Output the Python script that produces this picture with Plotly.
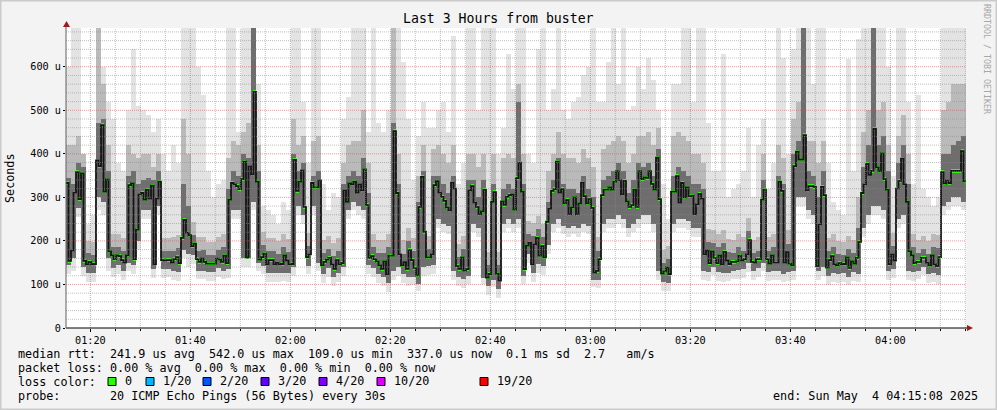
import numpy as np
import pandas as pd
import plotly.graph_objects as go

START = pd.Timestamp("2025-05-04 01:15:08")
END = pd.Timestamp("2025-05-04 04:15:08")
STEP_S = 30

# median RTT per 30 s step (microseconds)
median_us = [
    333,154,178,311,358,296,355,154,146,152, 146,147,385,372,466,313,341,176,167,158,
    167,165,156,150,167,328,332,158,226,307, 310,295,317,297,327,146,297,336,156,155,
    156,156,150,158,163,149,207,248,219,213, 188,194,158,152,160,152,148,148,148,148,
    160,157,152,166,149,295,333,330,326,319, 342,382,162,371,353,542,336,157,163,171,
    146,156,156,146,150,146,147,167,155,146, 147,386,315,336,362,278,163,169,333,323,
    323,339,144,152,157,161,146,136,156,146, 149,316,290,332,330,336,311,330,316,364,
    282,161,165,158,153,144,136,153,123,166, 166,452,310,169,144,151,136,179,156,138,
    121,278,347,221,162,162,169,328,337,311, 301,292,277,270,334,320,142,136,162,132,
    135,316,326,288,278,261,268,317,116,124, 290,312,125,109,291,283,301,305,307,272,
    344,380,313,135,189,196,146,192,207,166, 188,162,244,274,315,319,382,311,319,286,
    294,261,277,300,261,286,334,303,286,296, 276,127,131,158,305,318,318,323,318,336,
    360,339,307,338,291,278,282,318,278,360, 342,346,345,360,331,318,391,296,125,130,
    139,124,313,313,349,288,333,300,323,303, 304,261,284,308,297,169,178,149,176,161,
    149,167,146,175,155,147,152,152,153,166, 155,158,169,202,152,150,158,158,295,318,
    158,148,167,150,150,336,315,150,174,148, 144,372,405,387,387,443,316,326,326,324,
    142,238,324,305,139,156,165,146,144,149, 146,147,162,138,153,148,161,198,310,330,
    377,352,361,457,369,360,401,342,318,147, 169,155,320,338,389,330,290,176,167,149,
    152,152,161,161,150,144,167,146,142,163, 358,332,339,333,361,361,361,361,406,337,
]

# smoke (per minute): bottom of light, bottom of dark, top of dark, top of medium, top of light
smoke_min = [
    125,130,255,120,106,106,270,260,130,118, 125,110,130,125,180,250,250,115,260,115,
    116,110,109,160,140,148,112,112,108,108, 117,112,115,250,250,140,140,270,130,123,
    106,106,106,107,106,120,260,240,123,260, 130,104,117,96,106,120,250,270,260,250,
    125,118,104,96,83,110,120,104,96,98, 85,120,122,125,230,220,215,110,96,92,
    100,220,210,100,76,95,69,220,230,220, 230,100,149,106,126,122,170,220,230,215,
    210,215,210,220,215,95,91,220,230,230, 240,230,210,220,230,240,240,220,110,85,
    84,220,230,230,225,210,210,110,109,121, 109,106,107,112,113,115,129,110,118,130,
    108,110,110,105,108,110,280,280,250,240, 110,120,99,106,104,106,98,108,105,210,
    240,260,260,250,110,115,230,240,110,109, 112,121,104,106,102,260,270,280,280,270,
]
smoke_lo = [
    145,160,275,140,126,126,300,290,160,138, 145,130,150,145,200,270,270,135,280,135,
    136,130,129,180,170,168,132,132,128,128, 137,132,135,270,270,160,160,290,150,143,
    126,126,126,127,126,140,280,260,143,280, 150,124,137,116,126,140,270,290,280,270,
    145,138,124,116,103,130,140,124,116,118, 100,140,142,145,250,240,235,130,116,112,
    120,240,230,115,96,110,89,240,250,240, 250,120,169,126,146,142,190,240,250,235,
    230,235,230,240,235,110,111,240,250,250, 260,250,230,240,250,260,260,240,130,105,
    104,240,250,250,245,230,230,130,129,141, 129,126,127,132,133,135,149,130,138,150,
    128,130,130,125,128,130,300,300,270,260, 130,140,119,126,124,126,118,128,125,230,
    260,280,280,270,130,135,250,260,130,129, 132,141,124,126,122,280,290,300,300,290,
]
smoke_core = [
    345,330,380,370,172,167,470,480,360,187, 187,176,350,360,330,340,345,340,360,176,
    176,178,183,330,280,214,178,180,168,168, 180,186,320,360,350,400,390,689,360,191,
    176,176,170,187,175,400,360,380,189,350, 360,172,181,166,176,330,350,360,350,390,
    310,185,173,173,186,470,330,171,199,176, 290,360,182,350,350,330,310,350,162,182,
    340,340,300,340,144,330,145,320,330,320, 520,330,216,212,227,208,290,340,390,330,
    320,320,310,350,320,300,178,340,350,360, 380,360,310,340,380,370,380,350,410,150,
    159,350,370,360,350,330,330,320,198,196, 187,195,175,172,186,178,222,172,178,340,
    178,187,350,330,194,400,430,689,360,350, 300,360,176,185,169,167,182,173,230,370,
    420,689,420,440,360,189,380,420,330,187, 172,181,170,187,183,400,400,420,430,440,
]
smoke_hi = [
    420,420,440,400,200,197,689,560,420,217, 217,206,420,400,390,400,400,370,400,206,
    206,208,213,480,400,244,208,210,198,198, 210,216,390,430,420,450,470,689,420,221,
    206,206,200,217,205,480,420,440,219,430, 440,202,211,196,206,380,420,430,430,500,
    380,215,203,203,216,689,400,201,229,206, 350,420,212,410,420,400,380,420,192,212,
    400,400,370,400,174,400,175,390,400,390, 560,400,246,242,257,238,360,400,450,400,
    390,390,380,410,390,370,208,410,420,430, 440,430,380,400,440,440,450,420,460,180,
    189,440,450,440,430,400,400,380,228,226, 217,225,205,202,216,208,252,202,208,400,
    208,217,420,390,224,480,520,689,430,430, 380,430,206,215,199,197,212,203,300,450,
    500,689,500,520,420,219,440,490,400,217, 202,211,200,217,213,500,520,560,560,560,
]
smoke_max = [
    600,689,689,400,240,260,689,600,520,480, 380,360,500,640,510,500,490,450,480,400,
    360,420,380,689,689,689,600,535,360,300, 330,340,689,689,450,689,689,689,560,280,
    270,260,240,290,270,689,689,520,380,689, 689,330,270,310,300,480,530,689,689,689,
    450,689,470,450,500,689,689,610,480,340, 440,520,460,460,500,520,450,670,330,380,
    689,689,500,689,689,689,400,460,630,550, 689,689,400,380,640,689,500,550,689,500,
    480,520,530,580,600,689,520,520,610,689, 560,689,500,510,600,550,620,570,500,330,
    250,560,560,689,689,520,689,689,470,360, 360,630,300,320,330,360,460,300,420,480,
    320,380,689,620,400,640,689,689,689,560, 689,689,380,290,270,260,618,360,664,689,
    689,689,689,689,600,350,689,689,520,330, 535,320,300,280,300,689,689,689,689,689,
]

x_tick_labels = ["01:20", "01:40", "02:00", "02:20", "02:40", "03:00", "03:20", "03:40", "04:00"]
y_tick_values = [0, 100, 200, 300, 400, 500, 600]
y_tick_labels = ["0", "100 u", "200 u", "300 u", "400 u", "500 u", "600 u"]

loss_labels = ["0", "1/20", "2/20", "3/20", "4/20", "10/20", "19/20"]
loss_colors = ["#26ff00", "#00b8ff", "#0059ff", "#5e00ff", "#7e00ff", "#dd00ff", "#ff0000"]

legend_lines = [
    "median rtt:  241.9 us avg  542.0 us max  109.0 us min  337.0 us now  0.1 ms sd  2.7   am/s",
    "packet loss: 0.00 % avg  0.00 % max  0.00 % min  0.00 % now",
    "loss color:",
    "probe:       20 ICMP Echo Pings (56 Bytes) every 30s",
]
end_text = "end: Sun May  4 04:15:08 2025"
title_text = "Last 3 Hours from buster"

MONO = "DejaVu Sans Mono"
Y_MAX = 689

# ---------- geometry helpers (pixel -> paper) ----------
L, R, T, B = 66, 31, 28, 82
W, H = 997, 410
PW, PH = W - L - R, H - T - B


def px(x):
    return (x - L) / PW


def py(y):
    return (H - B - y) / PH


def nb(s):
    return s.replace(" ", "\u00a0")


fig = go.Figure()

t_min = START + pd.to_timedelta(np.arange(len(smoke_min)) * 60 + 30, unit="s")
t_med = START + pd.to_timedelta(np.arange(len(median_us)) * STEP_S + STEP_S / 2, unit="s")


def band(lo, hi, color):
    fig.add_trace(go.Bar(
        x=t_min, base=lo, y=[h - l for l, h in zip(lo, hi)], width=60000,
        marker=dict(color=color, line=dict(width=0)), hoverinfo="skip", showlegend=False))


band(smoke_min, smoke_max, "#e3e3e3")
band(smoke_lo, smoke_hi, "#bababa")
band(smoke_lo, smoke_core, "#6e6e6e")

# median step line
step_x = list(START + pd.to_timedelta(np.arange(len(median_us)) * STEP_S, unit="s")) + [END]
step_y = list(median_us) + [median_us[-1]]
fig.add_trace(go.Scatter(x=step_x, y=step_y, mode="lines", line=dict(color="#141414", width=1.8, shape="hv"),
                         hoverinfo="skip", showlegend=False))

# loss-coloured median blocks
fig.add_trace(go.Bar(
    x=t_med, base=[m - 4 for m in median_us], y=[8] * len(median_us), width=STEP_S * 1150,
    marker=dict(color=loss_colors[0], line=dict(width=0)), hoverinfo="skip", showlegend=False))

shapes = []
# grid on top
grid_minor = "rgba(140,140,140,0.55)"
grid_major = "rgba(240,70,70,0.55)"
t = pd.Timestamp("2025-05-04 01:20:00")
k = 0
while t <= END:
    major = (k % 4 == 0)
    shapes.append(dict(type="line", xref="x", yref="paper", x0=t, x1=t, y0=0, y1=1, layer="above",
                       line=dict(color=grid_major if major else grid_minor, width=1, dash="1px,1px")))
    t = t + pd.Timedelta(minutes=5)
    k += 1
for v in range(20, Y_MAX, 20):
    major = (v % 100 == 0)
    shapes.append(dict(type="line", xref="paper", yref="y", x0=0, x1=1, y0=v, y1=v, layer="above",
                       line=dict(color=grid_major if major else grid_minor, width=1, dash="1px,1px")))

# axes + arrows
shapes.append(dict(type="line", xref="paper", yref="paper", x0=px(66), x1=px(968), y0=0, y1=0,
                   layer="above", line=dict(color="#000000", width=1)))
shapes.append(dict(type="line", xref="paper", yref="paper", x0=0, x1=0, y0=0, y1=py(25),
                   layer="above", line=dict(color="#606060", width=1)))
shapes.append(dict(type="path", xref="paper", yref="paper", layer="above",
                   path=f"M {px(967)} {py(325)} L {px(973)} {py(328)} L {px(967)} {py(331)} Z",
                   fillcolor="#9b1c1c", line=dict(width=0)))
shapes.append(dict(type="path", xref="paper", yref="paper", layer="above",
                   path=f"M {px(63)} {py(27)} L {px(66.5)} {py(21)} L {px(70)} {py(27)} Z",
                   fillcolor="#9b1c1c", line=dict(width=0)))
# outer frame
shapes.append(dict(type="rect", xref="paper", yref="paper", x0=px(0.5), x1=px(996.5), y0=py(409.5), y1=py(0.5),
                   layer="below", line=dict(color="#cbcbcb", width=2), fillcolor="rgba(0,0,0,0)"))

# loss colour boxes
box_x = [108, 146, 203, 261, 319, 377, 480]
lab_x = [123, 160.5, 218, 276, 334, 392, 495]
annotations = []
for bx, lx, lab, col in zip(box_x, lab_x, loss_labels, loss_colors):
    shapes.append(dict(type="rect", xref="paper", yref="paper", x0=px(bx), x1=px(bx + 8), y0=py(385.5), y1=py(377.5),
                       fillcolor=col, line=dict(color="#000000", width=1), layer="above"))
    annotations.append(dict(x=px(lx), y=py(381.5), xref="paper", yref="paper", text=nb(lab), showarrow=False,
                            xanchor="left", yanchor="middle", font=dict(family=MONO, size=11.75, color="#000")))

annotations.append(dict(x=px(498), y=py(19), xref="paper", yref="paper", text=nb(title_text), showarrow=False,
                        xanchor="center", yanchor="middle", font=dict(family=MONO, size=13.2, color="#000")))
annotations.append(dict(x=px(10), y=py(178), xref="paper", yref="paper", text="Seconds", showarrow=False,
                        textangle=-90, xanchor="center", yanchor="middle",
                        font=dict(family=MONO, size=11.75, color="#000")))
annotations.append(dict(x=px(987), y=py(59), xref="paper", yref="paper", text=nb("RRDTOOL / TOBI OETIKER"),
                        showarrow=False, textangle=90, xanchor="center", yanchor="middle",
                        font=dict(family=MONO, size=8.3, color="#a6a6a6")))
for i, line in enumerate(legend_lines):
    annotations.append(dict(x=px(16), y=py(354 + 14 * i), xref="paper", yref="paper", text=nb(line),
                            showarrow=False, xanchor="left", yanchor="middle",
                            font=dict(family=MONO, size=11.75, color="#000")))
annotations.append(dict(x=px(980), y=py(396), xref="paper", yref="paper", text=nb(end_text), showarrow=False,
                        xanchor="right", yanchor="middle", font=dict(family=MONO, size=11.75, color="#000")))

x_tick_vals = [pd.Timestamp("2025-05-04 " + s) for s in x_tick_labels]

fig.update_layout(
    width=W, height=H,
    margin=dict(l=L, r=R, t=T, b=B, pad=0),
    paper_bgcolor="#f3f3f3", plot_bgcolor="#ffffff",
    barmode="overlay", bargap=0, showlegend=False, hovermode=False,
    shapes=shapes, annotations=annotations,
    xaxis=dict(type="date", range=[START, END], showgrid=False, zeroline=False, showline=False,
               tickvals=x_tick_vals, ticktext=x_tick_labels, ticks="outside", ticklen=3, tickcolor="#000",
               tickfont=dict(family=MONO, size=10.2, color="#000"),
               minor=dict(ticks="outside", ticklen=2, tickcolor="#000", dtick=300000,
                          tick0="2025-05-04 01:20:00", showgrid=False)),
    yaxis=dict(range=[0, Y_MAX], showgrid=False, zeroline=False, showline=False,
               tickvals=y_tick_values, ticktext=y_tick_labels, ticks="outside", ticklen=2, tickcolor="#000",
               tickfont=dict(family=MONO, size=10.2, color="#000")),
)

fig.write_html("out.html", config={"displayModeBar": False},
               post_script="document.body.style.margin='0px';document.body.style.padding='0px';")
